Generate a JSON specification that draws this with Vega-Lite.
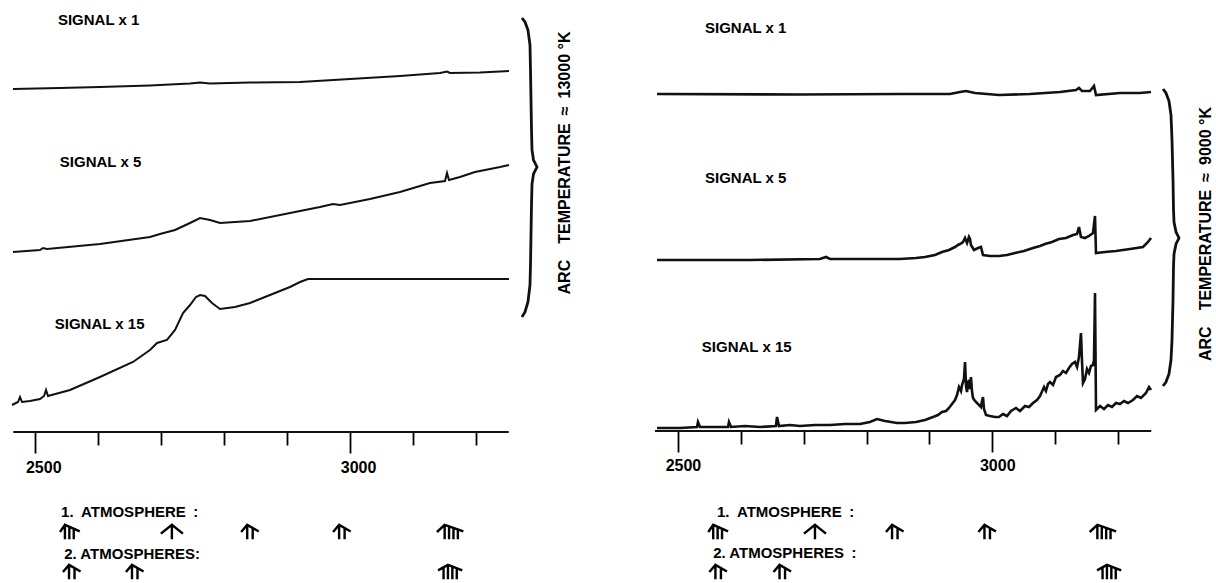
{
"$schema": "https://vega.github.io/schema/vega-lite/v6.json",
"padding": 0,
"autosize": {"type": "pad"},
"background": "white",
"spacing": 0,
"config": {"view": {"stroke": null}, "font": "Liberation Sans"},
"datasets": {
"tL": [
{"t":"x1","wl":2464.6,"s":343},{"t":"x1","wl":2539.3,"s":344},{"t":"x1","wl":2602.8,"s":345},{"t":"x1","wl":2682.2,"s":346.5},{"t":"x1","wl":2745.8,"s":348.5},{"t":"x1","wl":2761.7,"s":349.5},{"t":"x1","wl":2777.5,"s":348.5},{"t":"x1","wl":2841.1,"s":349.5},{"t":"x1","wl":2920.5,"s":350},{"t":"x1","wl":3000,"s":353},{"t":"x1","wl":3079.3,"s":356},{"t":"x1","wl":3142.9,"s":359},{"t":"x1","wl":3154,"s":360.5},{"t":"x1","wl":3158.7,"s":359},{"t":"x1","wl":3206.4,"s":359.5},{"t":"x1","wl":3238.2,"s":360.5},{"t":"x1","wl":3252.4,"s":361},
{"t":"x5","wl":2464.6,"s":180},{"t":"x5","wl":2507.5,"s":182},{"t":"x5","wl":2512.3,"s":184},{"t":"x5","wl":2518.7,"s":183},{"t":"x5","wl":2602.8,"s":188},{"t":"x5","wl":2682.2,"s":195},{"t":"x5","wl":2698.1,"s":198},{"t":"x5","wl":2722,"s":202},{"t":"x5","wl":2745.8,"s":209},{"t":"x5","wl":2761.7,"s":214},{"t":"x5","wl":2777.5,"s":212},{"t":"x5","wl":2793.4,"s":209},{"t":"x5","wl":2841.1,"s":211},{"t":"x5","wl":2920.5,"s":221},{"t":"x5","wl":2952.3,"s":225},{"t":"x5","wl":2972.9,"s":228},{"t":"x5","wl":2984,"s":227},{"t":"x5","wl":3031.7,"s":233},{"t":"x5","wl":3079.3,"s":240},{"t":"x5","wl":3127,"s":249},{"t":"x5","wl":3150.8,"s":251},{"t":"x5","wl":3154,"s":259},{"t":"x5","wl":3157.1,"s":252},{"t":"x5","wl":3174.6,"s":255},{"t":"x5","wl":3198.4,"s":260},{"t":"x5","wl":3222.3,"s":263},{"t":"x5","wl":3238.2,"s":265},{"t":"x5","wl":3252.4,"s":267},
{"t":"x15","wl":2463.1,"s":27},{"t":"x15","wl":2472.6,"s":30},{"t":"x15","wl":2475.8,"s":35},{"t":"x15","wl":2478.9,"s":30},{"t":"x15","wl":2491.6,"s":31},{"t":"x15","wl":2507.5,"s":33},{"t":"x15","wl":2513.9,"s":36},{"t":"x15","wl":2517.1,"s":42},{"t":"x15","wl":2520.2,"s":36},{"t":"x15","wl":2555.2,"s":42},{"t":"x15","wl":2602.8,"s":55},{"t":"x15","wl":2655.2,"s":70},{"t":"x15","wl":2682.2,"s":82},{"t":"x15","wl":2693.4,"s":89},{"t":"x15","wl":2709.2,"s":92},{"t":"x15","wl":2722,"s":102},{"t":"x15","wl":2734.7,"s":119},{"t":"x15","wl":2745.8,"s":127},{"t":"x15","wl":2755.3,"s":135},{"t":"x15","wl":2761.7,"s":137},{"t":"x15","wl":2769.6,"s":136},{"t":"x15","wl":2780.7,"s":129},{"t":"x15","wl":2793.4,"s":123},{"t":"x15","wl":2817.3,"s":125},{"t":"x15","wl":2841.1,"s":129},{"t":"x15","wl":2872.8,"s":137},{"t":"x15","wl":2904.6,"s":145},{"t":"x15","wl":2920.5,"s":150},{"t":"x15","wl":2933.2,"s":153},{"t":"x15","wl":3252.4,"s":153}
],
"tR": [
{"t":"x1","wl":2466.7,"s":337},{"t":"x1","wl":2694.2,"s":336.5},{"t":"x1","wl":2853.3,"s":337},{"t":"x1","wl":2932.8,"s":337},{"t":"x1","wl":2948.7,"s":339},{"t":"x1","wl":2958.3,"s":340},{"t":"x1","wl":2972.6,"s":338},{"t":"x1","wl":3010.8,"s":336},{"t":"x1","wl":3060.1,"s":337},{"t":"x1","wl":3107.8,"s":339},{"t":"x1","wl":3133.3,"s":341},{"t":"x1","wl":3138,"s":343},{"t":"x1","wl":3142.8,"s":340},{"t":"x1","wl":3155.5,"s":340},{"t":"x1","wl":3161.9,"s":345},{"t":"x1","wl":3165.1,"s":336},{"t":"x1","wl":3203.3,"s":338},{"t":"x1","wl":3235.1,"s":338},{"t":"x1","wl":3252.6,"s":339},
{"t":"x5","wl":2466.7,"s":171},{"t":"x5","wl":2614.6,"s":171},{"t":"x5","wl":2726,"s":172},{"t":"x5","wl":2735.5,"s":174},{"t":"x5","wl":2741.9,"s":172},{"t":"x5","wl":2853.3,"s":172},{"t":"x5","wl":2878.7,"s":173},{"t":"x5","wl":2893,"s":174},{"t":"x5","wl":2909,"s":176},{"t":"x5","wl":2920.1,"s":179},{"t":"x5","wl":2931.2,"s":181},{"t":"x5","wl":2940.8,"s":184},{"t":"x5","wl":2945.5,"s":186},{"t":"x5","wl":2948.7,"s":187},{"t":"x5","wl":2953.5,"s":189},{"t":"x5","wl":2956.7,"s":193},{"t":"x5","wl":2959.9,"s":188},{"t":"x5","wl":2963,"s":194},{"t":"x5","wl":2964.6,"s":192},{"t":"x5","wl":2966.2,"s":186},{"t":"x5","wl":2971,"s":181},{"t":"x5","wl":2977.4,"s":183},{"t":"x5","wl":2982.1,"s":184},{"t":"x5","wl":2985.3,"s":176},{"t":"x5","wl":2996.5,"s":175},{"t":"x5","wl":3010.8,"s":175},{"t":"x5","wl":3023.5,"s":176},{"t":"x5","wl":3036.2,"s":178},{"t":"x5","wl":3050.5,"s":180},{"t":"x5","wl":3064.9,"s":183},{"t":"x5","wl":3076,"s":185},{"t":"x5","wl":3084,"s":187},{"t":"x5","wl":3095.1,"s":189},{"t":"x5","wl":3106.2,"s":192},{"t":"x5","wl":3117.4,"s":193},{"t":"x5","wl":3128.5,"s":196},{"t":"x5","wl":3134.9,"s":197},{"t":"x5","wl":3138,"s":204},{"t":"x5","wl":3141.2,"s":194},{"t":"x5","wl":3147.6,"s":193},{"t":"x5","wl":3154,"s":195},{"t":"x5","wl":3160.3,"s":198},{"t":"x5","wl":3163.5,"s":215},{"t":"x5","wl":3165.1,"s":178},{"t":"x5","wl":3179.4,"s":179},{"t":"x5","wl":3196.9,"s":180},{"t":"x5","wl":3219.2,"s":182},{"t":"x5","wl":3239.9,"s":184},{"t":"x5","wl":3247.8,"s":189},{"t":"x5","wl":3252.6,"s":193},
{"t":"x15","wl":2466.7,"s":3},{"t":"x15","wl":2503.3,"s":3},{"t":"x15","wl":2530.3,"s":4},{"t":"x15","wl":2531.9,"s":9},{"t":"x15","wl":2535.1,"s":4},{"t":"x15","wl":2559,"s":4},{"t":"x15","wl":2579.6,"s":4},{"t":"x15","wl":2581.2,"s":9},{"t":"x15","wl":2584.4,"s":4},{"t":"x15","wl":2606.7,"s":5},{"t":"x15","wl":2630.5,"s":4},{"t":"x15","wl":2656,"s":5},{"t":"x15","wl":2657.6,"s":14},{"t":"x15","wl":2660.8,"s":5},{"t":"x15","wl":2678.3,"s":6},{"t":"x15","wl":2694.2,"s":5},{"t":"x15","wl":2718,"s":6},{"t":"x15","wl":2741.9,"s":6},{"t":"x15","wl":2765.8,"s":7},{"t":"x15","wl":2789.6,"s":7},{"t":"x15","wl":2805.5,"s":9},{"t":"x15","wl":2816.7,"s":12},{"t":"x15","wl":2829.4,"s":10},{"t":"x15","wl":2848.5,"s":8},{"t":"x15","wl":2861.2,"s":8},{"t":"x15","wl":2878.7,"s":9},{"t":"x15","wl":2893,"s":11},{"t":"x15","wl":2905.8,"s":14},{"t":"x15","wl":2913.7,"s":16},{"t":"x15","wl":2920.1,"s":19},{"t":"x15","wl":2926.5,"s":20},{"t":"x15","wl":2931.2,"s":23},{"t":"x15","wl":2936,"s":27},{"t":"x15","wl":2940.8,"s":31},{"t":"x15","wl":2944,"s":36},{"t":"x15","wl":2947.1,"s":44},{"t":"x15","wl":2950.3,"s":40},{"t":"x15","wl":2951.9,"s":46},{"t":"x15","wl":2955.1,"s":52},{"t":"x15","wl":2956.7,"s":69},{"t":"x15","wl":2958.3,"s":45},{"t":"x15","wl":2959.9,"s":39},{"t":"x15","wl":2961.5,"s":48},{"t":"x15","wl":2963,"s":51},{"t":"x15","wl":2964.6,"s":42},{"t":"x15","wl":2966.2,"s":54},{"t":"x15","wl":2967.8,"s":40},{"t":"x15","wl":2969.4,"s":33},{"t":"x15","wl":2972.6,"s":30},{"t":"x15","wl":2977.4,"s":27},{"t":"x15","wl":2982.1,"s":24},{"t":"x15","wl":2983.7,"s":30},{"t":"x15","wl":2985.3,"s":34},{"t":"x15","wl":2986.9,"s":22},{"t":"x15","wl":2990.1,"s":16},{"t":"x15","wl":2996.5,"s":15},{"t":"x15","wl":3004.4,"s":14},{"t":"x15","wl":3010.8,"s":14},{"t":"x15","wl":3017.1,"s":17},{"t":"x15","wl":3023.5,"s":15},{"t":"x15","wl":3029.9,"s":20},{"t":"x15","wl":3037.8,"s":23},{"t":"x15","wl":3044.2,"s":20},{"t":"x15","wl":3052.1,"s":25},{"t":"x15","wl":3058.5,"s":24},{"t":"x15","wl":3064.9,"s":28},{"t":"x15","wl":3071.2,"s":31},{"t":"x15","wl":3076,"s":35},{"t":"x15","wl":3082.4,"s":44},{"t":"x15","wl":3085.5,"s":40},{"t":"x15","wl":3088.7,"s":47},{"t":"x15","wl":3091.9,"s":49},{"t":"x15","wl":3096.7,"s":46},{"t":"x15","wl":3101.5,"s":54},{"t":"x15","wl":3107.8,"s":56},{"t":"x15","wl":3112.6,"s":60},{"t":"x15","wl":3117.4,"s":58},{"t":"x15","wl":3122.1,"s":63},{"t":"x15","wl":3126.9,"s":67},{"t":"x15","wl":3131.7,"s":69},{"t":"x15","wl":3134.9,"s":64},{"t":"x15","wl":3138,"s":74},{"t":"x15","wl":3141.2,"s":98},{"t":"x15","wl":3142.8,"s":70},{"t":"x15","wl":3144.4,"s":48},{"t":"x15","wl":3147.6,"s":52},{"t":"x15","wl":3150.8,"s":62},{"t":"x15","wl":3154,"s":58},{"t":"x15","wl":3157.1,"s":65},{"t":"x15","wl":3160.3,"s":66},{"t":"x15","wl":3161.9,"s":71},{"t":"x15","wl":3163.5,"s":138},{"t":"x15","wl":3165.1,"s":21},{"t":"x15","wl":3171.5,"s":25},{"t":"x15","wl":3177.8,"s":22},{"t":"x15","wl":3184.2,"s":26},{"t":"x15","wl":3190.5,"s":24},{"t":"x15","wl":3196.9,"s":28},{"t":"x15","wl":3203.3,"s":27},{"t":"x15","wl":3209.6,"s":30},{"t":"x15","wl":3216,"s":28},{"t":"x15","wl":3223.9,"s":31},{"t":"x15","wl":3230.3,"s":35},{"t":"x15","wl":3236.7,"s":33},{"t":"x15","wl":3244.6,"s":38},{"t":"x15","wl":3249.4,"s":44},{"t":"x15","wl":3252.6,"s":41}
],
"axL": [{"a":2465,"b":3252,"s":0}],
"axR": [{"a":2463.5,"b":3253,"s":0}],
"labL": [{"t":"SIGNAL x 1","wl":2536,"s":412},{"t":"SIGNAL x 5","wl":2539,"s":270},{"t":"SIGNAL x 15","wl":2531,"s":108},{"t":"1.\u2002ATMOSPHERE\u2002:","wl":2541,"s":-80},{"t":"2. ATMOSPHERES:","wl":2546,"s":-122}],
"labR": [{"t":"SIGNAL x 1","wl":2543,"s":403},{"t":"SIGNAL x 5","wl":2543,"s":253},{"t":"SIGNAL x 15","wl":2538,"s":84},{"t":"1.\u2002ATMOSPHERE\u2002:","wl":2562,"s":-81},{"t":"2. ATMOSPHERES\u2002:","wl":2556,"s":-122}],
"tmpL": [{"t":"ARC\u2003TEMPERATURE\u2002\u2248\u200213000 \u00b0K","wl":3341,"s":269}],
"tmpR": [{"t":"ARC\u2003TEMPERATURE\u2002\u2248\u20029000 \u00b0K","wl":3340,"s":197}],
"arrL": [{"k":"s3","wl":2555,"s":-100},{"k":"s1","wl":2717,"s":-100},{"k":"s2","wl":2841,"s":-100},{"k":"s2","wl":2987,"s":-100},{"k":"s4","wl":3159,"s":-100},{"k":"s2","wl":2558,"s":-140},{"k":"s2","wl":2658,"s":-140},{"k":"r4","wl":3159,"s":-140}],
"arrR": [{"k":"s3","wl":2564,"s":-101},{"k":"s1","wl":2718,"s":-101},{"k":"s2","wl":2845,"s":-101},{"k":"s2","wl":2992,"s":-101},{"k":"s4","wl":3176,"s":-101},{"k":"s2","wl":2564,"s":-141},{"k":"s2","wl":2666,"s":-141},{"k":"r4","wl":3186,"s":-141}],
"brL": [{"i":0,"wl":3273.1,"s":414},{"i":1,"wl":3277.9,"s":410},{"i":2,"wl":3282.6,"s":402},{"i":3,"wl":3285.8,"s":387},{"i":4,"wl":3286.6,"s":362},{"i":5,"wl":3287.4,"s":332},{"i":6,"wl":3288.2,"s":302},{"i":7,"wl":3289,"s":282},{"i":8,"wl":3291.4,"s":272},{"i":9,"wl":3296.9,"s":265},{"i":10,"wl":3291.4,"s":258},{"i":11,"wl":3289,"s":248},{"i":12,"wl":3288.2,"s":227},{"i":13,"wl":3287.4,"s":197},{"i":14,"wl":3286.6,"s":167},{"i":15,"wl":3285.8,"s":147},{"i":16,"wl":3282.6,"s":130},{"i":17,"wl":3277.9,"s":120},{"i":18,"wl":3273.1,"s":115}],
"brR": [{"i":0,"wl":3271.7,"s":342},{"i":1,"wl":3276.4,"s":338},{"i":2,"wl":3281.2,"s":330},{"i":3,"wl":3284.4,"s":316},{"i":4,"wl":3286,"s":291},{"i":5,"wl":3287.6,"s":251},{"i":6,"wl":3288.4,"s":221},{"i":7,"wl":3289.2,"s":209},{"i":8,"wl":3292.4,"s":199},{"i":9,"wl":3297.1,"s":193},{"i":10,"wl":3292.4,"s":187},{"i":11,"wl":3289.2,"s":177},{"i":12,"wl":3288.4,"s":165},{"i":13,"wl":3287.6,"s":131},{"i":14,"wl":3286,"s":91},{"i":15,"wl":3284.4,"s":71},{"i":16,"wl":3281.2,"s":57},{"i":17,"wl":3276.4,"s":49},{"i":18,"wl":3271.7,"s":45}]
},
"hconcat": [
{
"width": 600, "height": 583,
"resolve": {"axis": {"x": "independent"}},
"layer": [
{"data": {"name": "tL"}, "mark": {"type": "line", "color": "#111", "strokeWidth": 2},
 "encoding": {"x": {"field": "wl", "type": "quantitative", "scale": {"domain": [2444, 3397], "nice": false, "zero": false},
   "axis": {"orient": "bottom", "offset": -151, "values": [2500, 3000], "format": "d", "tickSize": 21, "tickWidth": 1.8, "tickColor": "black", "domain": false, "grid": false, "title": null, "labelFont": "Liberation Sans", "labelFontWeight": "bold", "labelFontSize": 16, "labelColor": "black", "labelPadding": 6, "labelOffset": 8, "labelFlush": false, "labelOverlap": false, "labelBound": false}},
  "y": {"field": "s", "type": "quantitative", "scale": {"domain": [-151, 432], "nice": false, "zero": false}, "axis": null},
  "detail": {"field": "t"}}},
{"data": {"name": "axL"}, "mark": {"type": "rule", "color": "#111", "strokeWidth": 2},
 "encoding": {"x": {"field": "a", "type": "quantitative", "scale": {"domain": [2444, 3397], "nice": false, "zero": false},
   "axis": {"orient": "bottom", "offset": -151, "values": [2600, 2700, 2800, 2900, 3100, 3200], "tickSize": 13, "tickWidth": 1.8, "tickColor": "black", "domain": false, "grid": false, "labels": false, "title": null}},
  "x2": {"field": "b"},
  "y": {"field": "s", "type": "quantitative", "scale": {"domain": [-151, 432], "nice": false, "zero": false}, "axis": null}}},
{"data": {"name": "labL"}, "mark": {"type": "text", "align": "left", "baseline": "middle", "fontSize": 15, "fontWeight": "bold", "color": "black"},
 "encoding": {"x": {"field": "wl", "type": "quantitative", "scale": {"domain": [2444, 3397], "nice": false, "zero": false}, "axis": null},
  "y": {"field": "s", "type": "quantitative", "scale": {"domain": [-151, 432], "nice": false, "zero": false}, "axis": null},
  "text": {"field": "t"}}},
{"data": {"name": "tmpL"}, "mark": {"type": "text", "align": "center", "baseline": "middle", "fontSize": 16, "fontWeight": "bold", "angle": 270, "color": "black"},
 "encoding": {"x": {"field": "wl", "type": "quantitative", "scale": {"domain": [2444, 3397], "nice": false, "zero": false}, "axis": null},
  "y": {"field": "s", "type": "quantitative", "scale": {"domain": [-151, 432], "nice": false, "zero": false}, "axis": null},
  "text": {"field": "t"}}},
{"data": {"name": "brL"}, "mark": {"type": "line", "color": "#111", "strokeWidth": 2.8},
 "encoding": {"x": {"field": "wl", "type": "quantitative", "scale": {"domain": [2444, 3397], "nice": false, "zero": false}, "axis": null},
  "y": {"field": "s", "type": "quantitative", "scale": {"domain": [-151, 432], "nice": false, "zero": false}, "axis": null},
  "order": {"field": "i"}}},
{"data": {"name": "arrL"}, "mark": {"type": "point", "filled": false, "color": "black", "strokeWidth": 2.4, "opacity": 1, "size": 484},
 "encoding": {"x": {"field": "wl", "type": "quantitative", "scale": {"domain": [2444, 3397], "nice": false, "zero": false}, "axis": null},
  "y": {"field": "s", "type": "quantitative", "scale": {"domain": [-151, 432], "nice": false, "zero": false}, "axis": null},
  "shape": {"field": "k", "type": "nominal", "legend": null, "scale": {"domain": ["s1", "s2", "s3", "s4", "r4"], "range": [
   "M-1,0.15L0,-0.65L1,0.15M0,-0.65L0,0.65",
   "M-0.8,0L-0.25,-0.65L0.8,-0.05M-0.25,-0.65L-0.25,0.65M0.25,-0.36L0.25,0.65",
   "M-0.9,0L-0.45,-0.65L0.9,-0.05M-0.45,-0.65L-0.45,0.65M-0.05,-0.47L-0.05,0.65M0.35,-0.29L0.35,0.65",
   "M-1.2,0L-0.5,-0.65L1.2,-0.05M-0.5,-0.65L-0.5,0.65M-0.1,-0.51L-0.1,0.65M0.3,-0.37L0.3,0.65M0.7,-0.23L0.7,0.65",
   "M-1.1,-0.15L-0.2,-0.65L1.1,-0.15M-0.6,-0.43L-0.6,0.65M-0.2,-0.65L-0.2,0.65M0.2,-0.5L0.2,0.65M0.6,-0.34L0.6,0.65"]}}}}
]
},
{
"width": 616, "height": 583,
"resolve": {"axis": {"x": "independent"}},
"layer": [
{"data": {"name": "tR"}, "mark": {"type": "line", "color": "#111", "strokeWidth": 2.6},
 "encoding": {"x": {"field": "wl", "type": "quantitative", "scale": {"domain": [2376, 3356], "nice": false, "zero": false},
   "axis": {"orient": "bottom", "offset": -152, "values": [2500, 3000], "format": "d", "tickSize": 21, "tickWidth": 1.8, "tickColor": "black", "domain": false, "grid": false, "title": null, "labelFont": "Liberation Sans", "labelFontWeight": "bold", "labelFontSize": 16, "labelColor": "black", "labelPadding": 5, "labelOffset": 5, "labelFlush": false, "labelOverlap": false, "labelBound": false}},
  "y": {"field": "s", "type": "quantitative", "scale": {"domain": [-152, 431], "nice": false, "zero": false}, "axis": null},
  "detail": {"field": "t"}}},
{"data": {"name": "axR"}, "mark": {"type": "rule", "color": "#111", "strokeWidth": 2},
 "encoding": {"x": {"field": "a", "type": "quantitative", "scale": {"domain": [2376, 3356], "nice": false, "zero": false},
   "axis": {"orient": "bottom", "offset": -152, "values": [2600, 2700, 2800, 2900, 3100, 3200], "tickSize": 13, "tickWidth": 1.8, "tickColor": "black", "domain": false, "grid": false, "labels": false, "title": null}},
  "x2": {"field": "b"},
  "y": {"field": "s", "type": "quantitative", "scale": {"domain": [-152, 431], "nice": false, "zero": false}, "axis": null}}},
{"data": {"name": "labR"}, "mark": {"type": "text", "align": "left", "baseline": "middle", "fontSize": 15, "fontWeight": "bold", "color": "black"},
 "encoding": {"x": {"field": "wl", "type": "quantitative", "scale": {"domain": [2376, 3356], "nice": false, "zero": false}, "axis": null},
  "y": {"field": "s", "type": "quantitative", "scale": {"domain": [-152, 431], "nice": false, "zero": false}, "axis": null},
  "text": {"field": "t"}}},
{"data": {"name": "tmpR"}, "mark": {"type": "text", "align": "center", "baseline": "middle", "fontSize": 16, "fontWeight": "bold", "angle": 270, "color": "black"},
 "encoding": {"x": {"field": "wl", "type": "quantitative", "scale": {"domain": [2376, 3356], "nice": false, "zero": false}, "axis": null},
  "y": {"field": "s", "type": "quantitative", "scale": {"domain": [-152, 431], "nice": false, "zero": false}, "axis": null},
  "text": {"field": "t"}}},
{"data": {"name": "brR"}, "mark": {"type": "line", "color": "#111", "strokeWidth": 2.8},
 "encoding": {"x": {"field": "wl", "type": "quantitative", "scale": {"domain": [2376, 3356], "nice": false, "zero": false}, "axis": null},
  "y": {"field": "s", "type": "quantitative", "scale": {"domain": [-152, 431], "nice": false, "zero": false}, "axis": null},
  "order": {"field": "i"}}},
{"data": {"name": "arrR"}, "mark": {"type": "point", "filled": false, "color": "black", "strokeWidth": 2.4, "opacity": 1, "size": 484},
 "encoding": {"x": {"field": "wl", "type": "quantitative", "scale": {"domain": [2376, 3356], "nice": false, "zero": false}, "axis": null},
  "y": {"field": "s", "type": "quantitative", "scale": {"domain": [-152, 431], "nice": false, "zero": false}, "axis": null},
  "shape": {"field": "k", "type": "nominal", "legend": null, "scale": {"domain": ["s1", "s2", "s3", "s4", "r4"], "range": [
   "M-1,0.15L0,-0.65L1,0.15M0,-0.65L0,0.65",
   "M-0.8,0L-0.25,-0.65L0.8,-0.05M-0.25,-0.65L-0.25,0.65M0.25,-0.36L0.25,0.65",
   "M-0.9,0L-0.45,-0.65L0.9,-0.05M-0.45,-0.65L-0.45,0.65M-0.05,-0.47L-0.05,0.65M0.35,-0.29L0.35,0.65",
   "M-1.2,0L-0.5,-0.65L1.2,-0.05M-0.5,-0.65L-0.5,0.65M-0.1,-0.51L-0.1,0.65M0.3,-0.37L0.3,0.65M0.7,-0.23L0.7,0.65",
   "M-1.1,-0.15L-0.2,-0.65L1.1,-0.15M-0.6,-0.43L-0.6,0.65M-0.2,-0.65L-0.2,0.65M0.2,-0.5L0.2,0.65M0.6,-0.34L0.6,0.65"]}}}}
]
}
]
}
